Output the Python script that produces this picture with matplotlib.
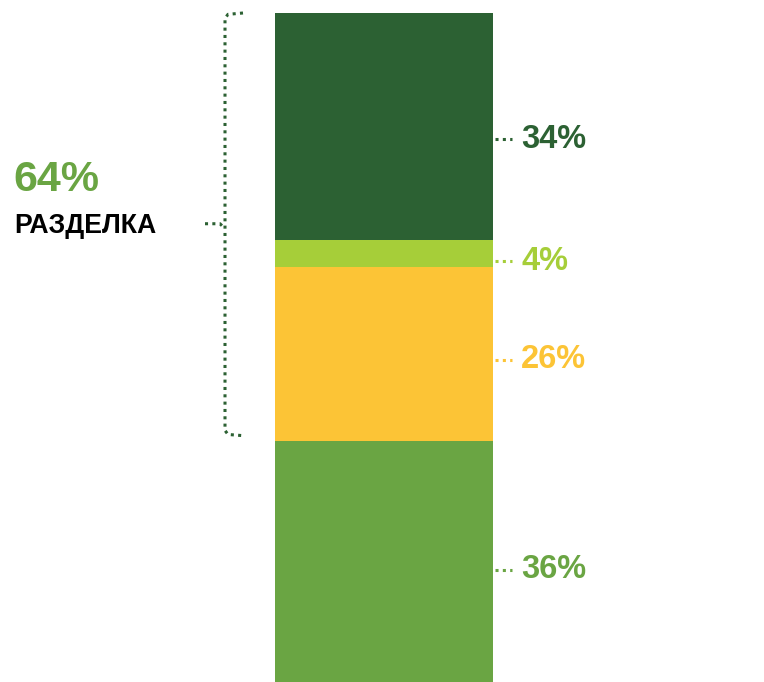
import matplotlib.pyplot as plt

# shares, bottom to top
labels = ['36%', '26%', '4%', '34%']
values = [36, 26, 4, 34]
colors = ['#6aa543', '#fcc436', '#a6ce39', '#2c6133']
label_y = [16.8, 48.2, 62.9, 81.1]   # where the side labels sit (percent axis)

group_value = '64%'
group_name = 'РАЗДЕЛКА'

plt.rcParams['font.family'] = ['Liberation Sans', 'DejaVu Sans']

fig = plt.figure(figsize=(7.64, 6.82), dpi=100)
ax = fig.add_axes([0, 0, 1, 1])
ax.set_xlim(0, 764)
top = 100 + 13 / 669 * 100
ax.set_ylim(0, top)
ax.axis('off')

bottom = 0
for v, c in zip(values, colors):
    ax.bar(384, v, width=218, bottom=bottom, color=c, linewidth=0)
    bottom += v

dots = (1, 1.4)
for lab, y, c in zip(labels, label_y, colors):
    ax.plot([495, 512], [y, y], color=c, lw=2.2, dashes=dots)
    ax.text(521, y, lab, color=c, fontsize=23.5, fontweight='bold', va='center', ha='left')

# dotted brace for the upper three parts
b_low = 36.8
b_high = 100
b_mid = 68.5
bc = '#2c6133'
ax.plot([243, 228, 225, 225, 228, 245],
        [b_high, b_high - 0.2, b_high - 0.8, b_low + 0.8, b_low + 0.2, b_low],
        color=bc, lw=2.2, dashes=dots)
ax.plot([205, 220, 224], [b_mid, b_mid, b_mid - 0.6], color=bc, lw=2.2, dashes=dots)

ax.text(13, 75.0, group_value, color='#6aa543', fontsize=31, fontweight='bold', va='center', ha='left')
ax.text(14, 68.2, group_name, color='black', fontsize=19.2, fontweight='bold', va='center', ha='left')

fig.savefig('out.png', dpi=100)
